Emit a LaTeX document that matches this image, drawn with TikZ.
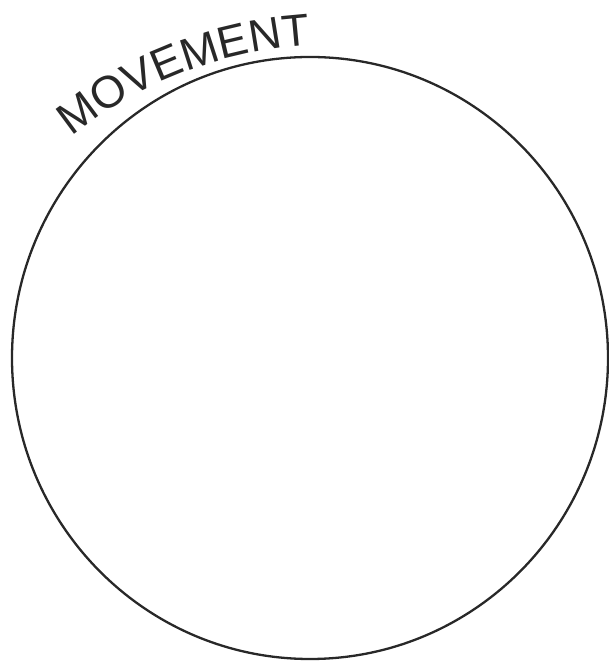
\documentclass[tikz,border=0pt]{standalone}
\usepackage{fontspec}
\setsansfont{Liberation Sans}
\usetikzlibrary{decorations.text}
\definecolor{inkgray}{RGB}{40,40,40}

\begin{document}
\begin{tikzpicture}[
  x=1pt,y=1pt,
  ring/.style={draw=inkgray,line width=2.3pt},
  arclabel/.style={decorate,decoration={text along path,text align=center,
    text={|\fontsize{45}{45}\sffamily\color{inkgray}|MOVEMENT}}}
]
\useasboundingbox (0,0) rectangle (608,666);
\coordinate (ctr) at (310,308);
\draw[ring] (ctr) ellipse [x radius=298,y radius=301];
% label over the upper left part of the rim
\coordinate (lblstart) at (66,524);
\coordinate (lblend) at (318,621);
\path[arclabel] (lblstart) .. controls (130,578) and (215,616) .. (lblend);
\end{tikzpicture}
\end{document}
